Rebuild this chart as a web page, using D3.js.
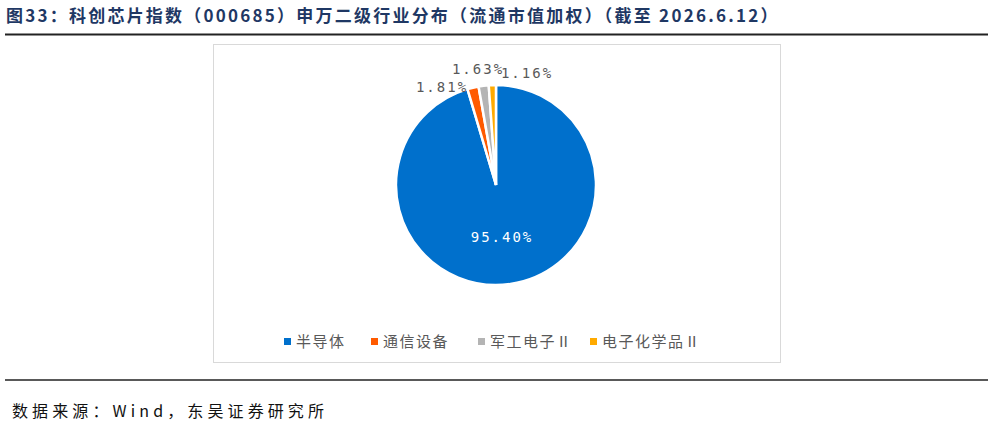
<!DOCTYPE html>
<html><head><meta charset="utf-8">
<script src="https://cdn.jsdelivr.net/npm/d3@7"></script>
<style>body{margin:0;background:#fff}svg{font-family:"Noto Sans CJK SC",sans-serif}</style>
</head><body><svg id="c" width="993" height="427"></svg>
<script>
const categories = ["半导体","通信设备","军工电子Ⅱ","电子化学品Ⅱ"];
const values = [95.40, 1.81, 1.63, 1.16];
const labels = ["95.40%","1.81%","1.63%","1.16%"];
const colors = ["#0070cc","#ff5a00","#b4b4b4","#ffaa00"];
const labelPos = [[502,242],[442,92],[478,74],[527,78]];

const svg = d3.select("#c");
svg.append("text").attr("x",6).attr("y",22).attr("font-size",17).attr("font-weight","bold")
  .attr("letter-spacing",0.6).attr("textLength",772).attr("lengthAdjust","spacing")
  .attr("fill","#1f3864").text("图33：科创芯片指数（000685）申万二级行业分布（流通市值加权）（截至 2026.6.12）");
svg.append("line").attr("x1",5).attr("x2",988).attr("y1",34.5).attr("y2",34.5).attr("stroke","#222").attr("stroke-width",2);
svg.append("rect").attr("x",213.5).attr("y",44.5).attr("width",567).attr("height",318).attr("fill","none").attr("stroke","#d9d9d9");
svg.append("line").attr("x1",5).attr("x2",988).attr("y1",380).attr("y2",380).attr("stroke","#222").attr("stroke-width",1.5);
svg.append("text").attr("x",12).attr("y",417).attr("font-size",16).attr("fill","#111")
  .attr("textLength",312).attr("lengthAdjust","spacing").text("数据来源：Wind，东吴证券研究所");

const pie = d3.pie().sort(null).value(d=>d);
const arc = d3.arc().innerRadius(0).outerRadius(100);
const g = svg.append("g").attr("transform","translate(496,185)");
g.selectAll("path").data(pie(values)).join("path").attr("d",arc)
  .attr("fill",(d,i)=>colors[i]).attr("stroke","#fff").attr("stroke-width",2.5);
labels.forEach((t,i)=>{
  svg.append("text").attr("x",labelPos[i][0]).attr("y",labelPos[i][1]).attr("text-anchor","middle")
    .attr("font-size",14).attr("letter-spacing",2).attr("font-family","'DejaVu Sans Mono',monospace")
    .attr("fill",i===0?"#fff":"#595959").text(t);
});
const lx = [284,371,478,590];
categories.forEach((c,i)=>{
  svg.append("rect").attr("x",lx[i]).attr("y",338).attr("width",7).attr("height",7).attr("fill",colors[i]);
  svg.append("text").attr("x",lx[i]+12).attr("y",347).attr("font-size",15).attr("letter-spacing",1.5).attr("fill","#595959").text(c);
});
</script></body></html>
